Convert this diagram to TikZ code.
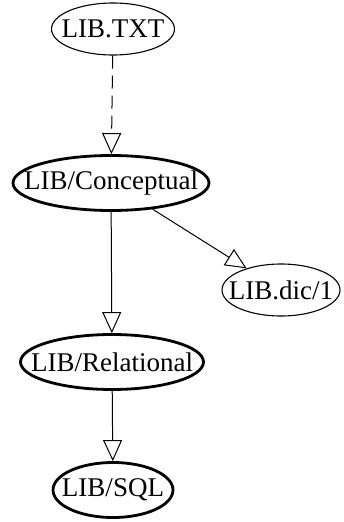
\documentclass[tikz,border=0pt]{standalone}
\usepackage{fontspec}
\setmainfont{Liberation Serif}
\usetikzlibrary{arrows.meta}
\usetikzlibrary{shapes.geometric}
\usetikzlibrary{positioning}

\begin{document}
\begin{tikzpicture}
	[x=1pt,y=-1pt,auto=left,
	every node/.style={ellipse,draw,line width=1.1pt,inner sep=-40pt,minimum height=52,font=\fontsize{27}{29}\selectfont},
	bold/.style={line width=2.8pt,minimum height=55},
	edge/.style={-{Triangle[open,length=21pt,width=19pt]},line width=1pt}]
	\useasboundingbox (0,0) rectangle (343,522);
	\node[minimum width=123] (txt) at (113,29) {LIB.TXT};
	\node[bold,minimum width=196] (con) at (111,183) {LIB/Conceptual};
	\node[minimum width=118] (dic) at (281,290) {LIB.dic/1};
	\node[bold,minimum width=183] (rel) at (112,362) {LIB/Relational};
	\node[bold,minimum width=120] (sql) at (113,490) {LIB/SQL};
	
	\draw[edge,dash pattern=on 13pt off 7pt] (txt) -- (con);
	\foreach \from/\to in 
	{con/dic, con/rel, rel/sql}
	\draw[edge] (\from) -- (\to);
	\end{tikzpicture}
\end{document}
